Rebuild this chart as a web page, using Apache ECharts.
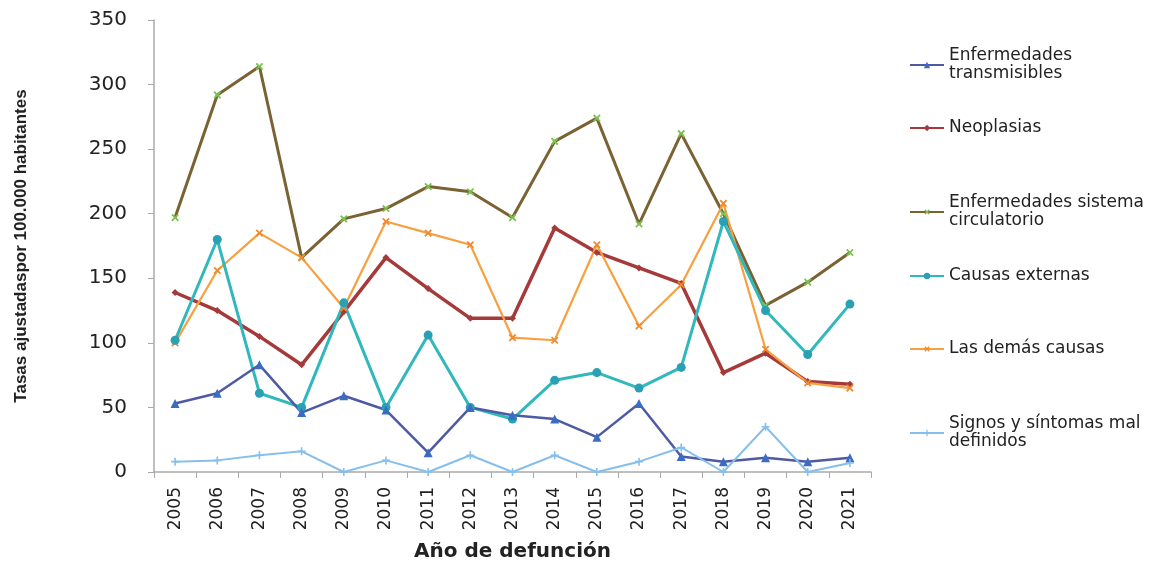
<!DOCTYPE html>
<html>
<head>
<meta charset="utf-8">
<script src="https://cdn.jsdelivr.net/npm/echarts@6/dist/echarts.min.js"></script>
<style>
  html, body { margin: 0; padding: 0; background: #fff; }
  #chart { width: 1154px; height: 561px; }
</style>
</head>
<body>
<div id="chart"></div>
<script>
const years = ['2005','2006','2007','2008','2009','2010','2011','2012','2013','2014','2015','2016','2017','2018','2019','2020','2021'];

const transmisibles = [53, 61, 83, 46, 59, 48, 15, 50, 44, 41, 27, 53, 12, 8, 11, 8, 11];
const neoplasias = [139, 125, 105, 83, 124, 166, 142, 119, 119, 189, 170, 158, 146, 77, 92, 70, 68];
const circulatorio = [197, 292, 314, 166, 196, 204, 221, 217, 197, 256, 274, 192, 262, 200, 129, 147, 170];
const externas = [102, 180, 61, 50, 131, 50, 106, 50, 41, 71, 77, 65, 81, 194, 125, 91, 130];
const demas = [100, 156, 185, 166, 127, 194, 185, 176, 104, 102, 176, 113, 145, 208, 95, 69, 65];
const signos = [8, 9, 13, 16, 0, 9, 0, 13, 0, 13, 0, 8, 19, 0, 35, 0, 7];

const yTicks = { min: 0, max: 350, interval: 50 };

const plus = 'path://M4,0H6V4H10V6H6V10H4V6H0V4H4Z';
const font = 'DejaVu Sans, Verdana, sans-serif';

const chart = echarts.init(document.getElementById('chart'));

function mk(name, data, color, width, symbol, size, markColor, rotate) {
    return {
        name: name,
        type: 'line',
        data: data,
        symbol: symbol,
        symbolSize: size,
        symbolRotate: rotate || 0,
        lineStyle: { color: color, width: width },
        itemStyle: { color: markColor || color },
        animation: false
    };
}

const names = [
    'Enfermedades\ntransmisibles',
    'Neoplasias',
    'Enfermedades sistema\ncirculatorio',
    'Causas externas',
    'Las demás causas',
    'Signos y síntomas mal\ndefinidos'
];
const legendTops = [42, 114, 189, 262, 335, 410];

const legends = names.map((n, i) => ({
    data: [n],
    orient: 'vertical',
    left: 904,
    top: legendTops[i],
    itemWidth: 34,
    itemHeight: 8,
    itemGap: 4,
    textStyle: { fontSize: 17, color: '#222', fontFamily: font, lineHeight: 18 },
    selectedMode: false
}));

const option = {
    backgroundColor: '#fff',
    legend: legends,
    grid: { left: 154, right: 283, top: 20, bottom: 89, outerBoundsMode: 'none' },
    xAxis: {
        type: 'category',
        data: years,
        boundaryGap: true,
        name: 'Año de defunción',
        nameLocation: 'middle',
        nameGap: 70,
        nameTextStyle: { fontSize: 20, fontWeight: 'bold', color: '#222', fontFamily: font },
        axisLine: { lineStyle: { color: '#aaa', width: 1.5 } },
        axisTick: { show: true, length: 6, lineStyle: { color: '#aaa' } },
        axisLabel: { rotate: 90, fontSize: 17, color: '#222', margin: 15, fontFamily: font }
    },
    yAxis: {
        type: 'value',
        min: yTicks.min,
        max: yTicks.max,
        interval: yTicks.interval,
        name: 'Tasas ajustadaspor 100.000 habitantes',
        nameLocation: 'middle',
        nameGap: 124,
        nameRotate: 90,
        nameTextStyle: { fontSize: 17, fontWeight: 'bold', color: '#222', fontFamily: 'Liberation Sans, Arial, sans-serif' },
        splitLine: { show: false },
        axisLine: { show: true, lineStyle: { color: '#aaa', width: 1.5 } },
        axisTick: { show: true, length: 6, lineStyle: { color: '#aaa' } },
        axisLabel: { fontSize: 20, color: '#222', margin: 27, fontFamily: font }
    },
    series: [
        mk(names[2], circulatorio, '#7a6232', 3, plus, 9, '#7cc050', 45),
        mk(names[1], neoplasias, '#a63a3a', 3.5, 'diamond', 7, '#a63a3a'),
        mk(names[4], demas, '#f7a040', 2.2, plus, 9, '#f08a30', 45),
        mk(names[3], externas, '#31b8bc', 3, 'circle', 9, '#2aa0b4'),
        mk(names[0], transmisibles, '#4e5aa4', 2.5, 'triangle', 9, '#3a6cc4'),
        mk(names[5], signos, '#86bfec', 2, plus, 8, '#86bfec')
    ]
};

chart.setOption(option);
</script>
</body>
</html>
